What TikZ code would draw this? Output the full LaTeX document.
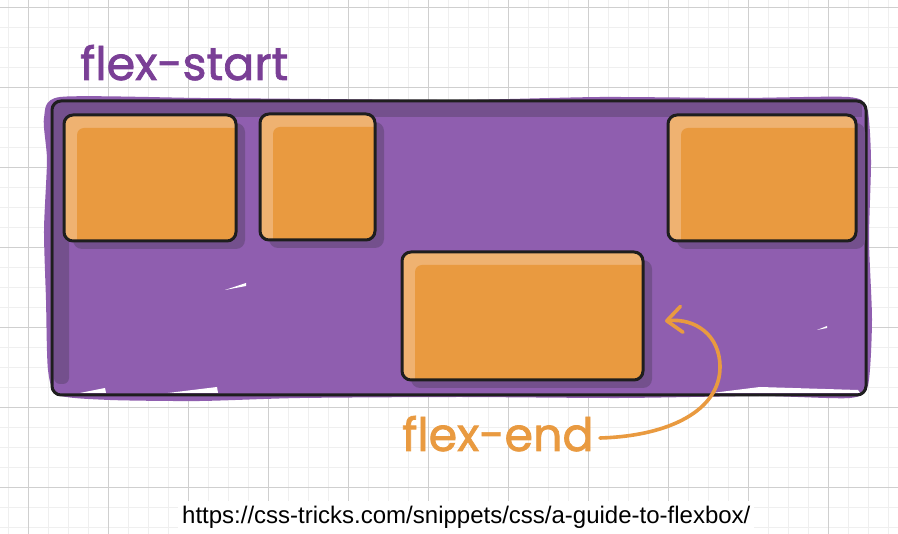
\documentclass[tikz,border=0pt]{standalone}
\usepackage{fontspec}
\newfontfamily\handfont{Poppins}[FakeBold=1.6]
\newfontfamily\urlfont{Liberation Sans}
\usetikzlibrary{shadows,arrows.meta}
\definecolor{gridminor}{HTML}{EFEFEF}
\definecolor{gridmajor}{HTML}{CFCFCF}
\definecolor{boxpurple}{HTML}{8F5EAF}
\definecolor{shadowpurple}{HTML}{74508D}
\definecolor{orangemain}{HTML}{E99A40}
\definecolor{orangelight}{HTML}{EFB271}
\definecolor{textpurple}{HTML}{7A3F96}
\definecolor{outline}{HTML}{1E1E1E}
\tikzset{
  minorline/.style={draw=gridminor, line width=1pt},
  majorline/.style={draw=gridmajor, line width=1pt},
  item/.style={draw=outline, line width=3pt, rounded corners=9pt, fill=orangelight, inner sep=0pt,
    general shadow={fill=shadowpurple, shadow xshift=9pt, shadow yshift=-8pt},
    path picture={\fill[orangemain, rounded corners=7pt]
      ([xshift=13pt,yshift=-13pt]path picture bounding box.north west) rectangle
      ([xshift=6pt,yshift=-6pt]path picture bounding box.south east);}},
  container/.style={draw=outline, line width=3pt, rounded corners=9pt, inner sep=0pt},
  handlabel/.style={font=\handfont\fontsize{46pt}{50pt}\selectfont, inner sep=0pt, anchor=base west},
  urllabel/.style={font=\urlfont\fontsize{24pt}{28pt}\selectfont, fill=white, inner xsep=4pt, inner ysep=6pt, anchor=base west},
  pointer/.style={draw=orangemain, line width=3.6pt, line cap=round,
    -{Straight Barb[length=15pt,width=26pt,round]}},
}
\begin{document}
\begin{tikzpicture}[x=1pt,y=-1pt]
\useasboundingbox (0,0) rectangle (898,534);
\fill[white] (0,0) rectangle (898,534);
% grid
\foreach \x in {8,28,...,888} \draw[minorline] (\x,0) -- (\x,534);
\foreach \y in {8,28,...,528} \draw[minorline] (0,\y) -- (898,\y);
\foreach \x in {28,108,...,888} \draw[majorline] (\x,0) -- (\x,534);
\foreach \y in {8,88,...,528} \draw[majorline] (0,\y) -- (898,\y);
% purple blob
\fill[boxpurple] plot[smooth cycle, tension=0.4] coordinates {
  (60,97) (200,98) (320,99) (460,100) (600,97) (740,98) (848,97)
  (867,108) (871,160) (869,240) (872,320) (868,385)
  (850,398) (760,396) (620,398) (460,397) (300,398) (200,401) (110,400)
  (58,395) (48,370) (46,300) (44,230) (47,160) (44,118) };
% darker inner bands
\fill[shadowpurple] (54,102) rectangle (862,117);
\fill[shadowpurple, rounded corners=6pt] (54,102) rectangle (69,384);
% white slivers
\fill[white] (80,393) -- (105,388) -- (106,393) -- cycle;
\fill[white] (168,393) -- (217,387) -- (218,393) -- cycle;
\fill[white] (712,393) -- (760,387) -- (858,390) -- (860,393) -- cycle;
\fill[white] (225,290) -- (246,283) -- (246,286) -- cycle;
\fill[white] (817,330) -- (827,326) -- (827,328) -- cycle;
% container outline
\node[container, minimum width=814pt, minimum height=294pt] (box) at (459,248) {};
% items
\node[item, minimum width=172pt, minimum height=126pt] (item1) at (150,178) {};
\node[item, minimum width=115pt, minimum height=126pt] (item2) at (317.5,177) {};
\node[item, minimum width=188pt, minimum height=126pt] (item3) at (762,178) {};
\node[item, minimum width=241pt, minimum height=128pt] (item4) at (522.5,316) {};
% labels
\node[handlabel, text=textpurple] (flexstart) at (80,80) {flex-start};
\node[handlabel, text=orangemain] (flexend) at (402,451) {flex-end};
\node[urllabel] (url) at (178,524) {https://css-tricks.com/snippets/css/a-guide-to-flexbox/};
% arrow
\coordinate (arrowstart) at (600,438);
\coordinate (arrowtip) at (665,321);
\draw[pointer] (arrowstart) .. controls (670,436) and (720,410) .. (720,367)
  .. controls (720,335) and (695,318) .. (arrowtip);
\end{tikzpicture}
\end{document}
